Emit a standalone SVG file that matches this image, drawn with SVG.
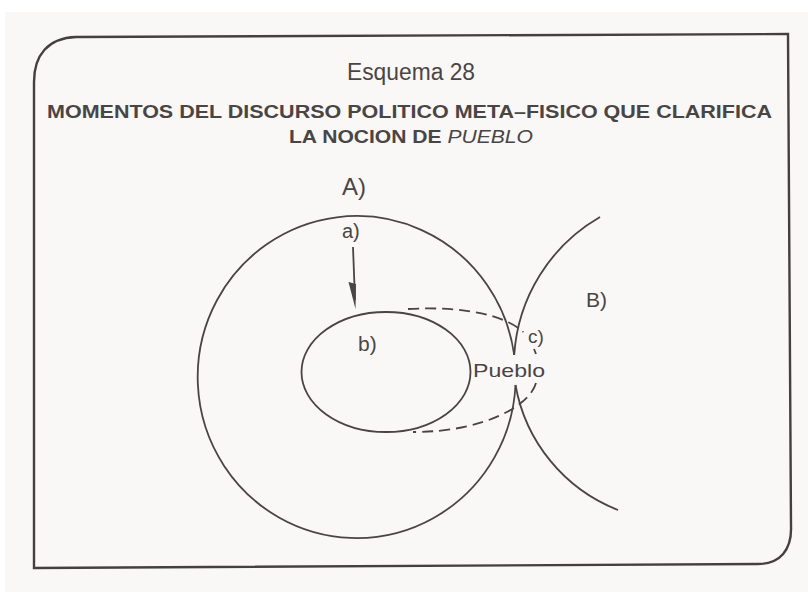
<svg xmlns="http://www.w3.org/2000/svg" width="808" height="592" viewBox="0 0 808 592">
<style>
text{font-family:"Liberation Sans",Arial,sans-serif;fill:#4a4545}
.ln{fill:none;stroke:#4a4545;stroke-width:1.8}
.ds{fill:none;stroke:#4a4545;stroke-width:1.8;stroke-dasharray:11 6}
.lbl{font-size:21px}
</style>
<rect x="0" y="0" width="808" height="592" fill="#ffffff"/>
<rect x="5" y="12" width="803" height="580" fill="#faf7f7"/>
<g id="frame">
<path d="M34 568 L34 82 C34 55 48 38 76 37 L788 34 L791 526 C792 550 780 564 758 564 Z" fill="none" stroke="#454040" stroke-width="2.4"/>
</g>
<g id="title">
<text x="411" y="80" font-size="23" text-anchor="middle" textLength="128" lengthAdjust="spacingAndGlyphs">Esquema 28</text>
<text x="47" y="118" font-size="18" font-weight="bold" textLength="725" lengthAdjust="spacingAndGlyphs">MOMENTOS DEL DISCURSO POLITICO META–FISICO QUE CLARIFICA</text>
<text x="289" y="143" font-size="18" textLength="244" lengthAdjust="spacingAndGlyphs"><tspan font-weight="bold">LA NOCION DE </tspan><tspan font-style="italic">PUEBLO</tspan></text>
</g>
<g id="circleA">
<path class="ln" d="M514.2 355 A159 161 0 1 0 515.5 385"/>
<text x="342" y="195" font-size="24">A)</text>
</g>
<g id="circleB">
<path class="ln" d="M600 217 A172 172 0 0 0 514.2 355"/>
<path class="ln" d="M515.5 385 A165 165 0 0 0 618 510"/>
<text x="586" y="307" class="lbl">B)</text>
</g>
<g id="ellipseB">
<ellipse class="ln" cx="386" cy="372" rx="84.5" ry="60"/>
<text x="358" y="351" class="lbl">b)</text>
</g>
<g id="moment-a">
<text x="342" y="238" font-size="20">a)</text>
</g>
<g id="pueblo">
<text x="473" y="377" font-size="19" textLength="72" lengthAdjust="spacingAndGlyphs">Pueblo</text>
<text x="528" y="343" font-size="19">c)</text>
</g>
<g id="connectors">
<line class="ln" x1="353" y1="247" x2="355" y2="300"/>
<polygon points="348.5,282 356,284 355.5,309" fill="#4a4545"/>
<path class="ds" d="M408 309 C463.5 306 504.4 314.8 523.4 332.1"/>
<path class="ln" d="M534 349 L536 354"/>
<path class="ds" d="M536 383 C530 405 485 432 413 432"/>
</g>
</svg>
